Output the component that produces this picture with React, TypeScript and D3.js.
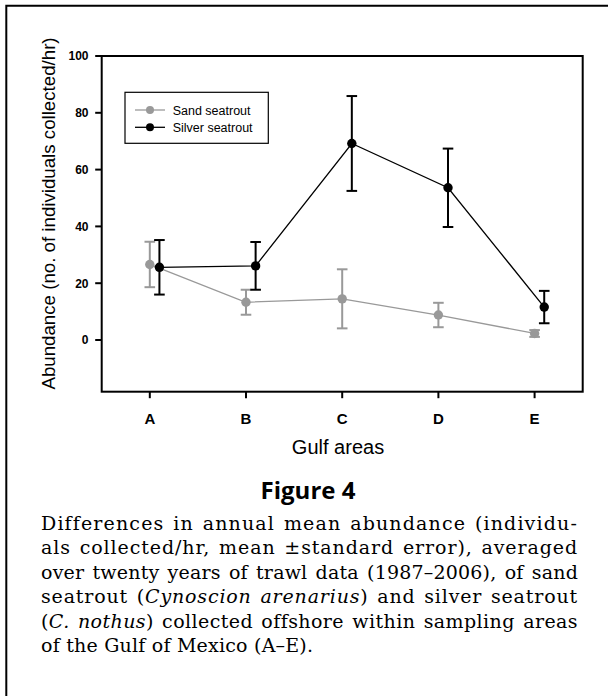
import React, { useEffect, useRef } from 'react';
import * as d3 from 'd3';

// ---------- data ----------
const categories = ['A', 'B', 'C', 'D', 'E'];
const sandMean = [26.6, 13.3, 14.5, 8.8, 2.3];
const sandSE = [8.0, 4.4, 10.4, 4.3, 1.2];
const silverMean = [25.6, 26.1, 69.2, 53.6, 11.6];
const silverSE = [9.6, 8.4, 16.7, 13.8, 5.7];
const yTicks = [0, 20, 40, 60, 80, 100];
const seriesNames = ['Sand seatrout', 'Silver seatrout'];
const yLabel = 'Abundance (no. of individuals collected/hr)';
const xLabel = 'Gulf areas';
const figTitle = 'Figure 4';
type Seg = { t: string; i?: boolean };
const captionLines: Seg[][] = [
  [{ t: 'Differences in annual mean abundance (individu-' }],
  [{ t: 'als collected/hr, mean \u00b1standard error), averaged' }],
  [{ t: 'over twenty years of trawl data (1987\u20132006), of sand' }],
  [{ t: 'seatrout (' }, { t: 'Cynoscion arenarius', i: true }, { t: ') and silver seatrout' }],
  [{ t: '(' }, { t: 'C. nothus', i: true }, { t: ') collected offshore within sampling areas' }],
  [{ t: 'of the Gulf of Mexico (A\u2013E).' }],
];

// ---------- layout ----------
const W = 608;
const H = 696;
const P = { left: 101.7, right: 582.7, top: 56, bottom: 391.7 };
const GREY = '#999999';
const CAP_L = 41;
const CAP_R = 578;

export default function App() {
  const capRef = useRef<SVGGElement>(null);

  const x = d3.scaleLinear().domain([0.5, 5.5]).range([P.left, P.right]);
  const y = d3.scaleLinear().domain([-18.2, 100]).range([P.bottom, P.top]);
  const idx = categories.map((_, i) => i + 1);

  const series = [
    { name: seriesNames[0], mean: sandMean, se: sandSE, color: GREY, off: 0 },
    { name: seriesNames[1], mean: silverMean, se: silverSE, color: '#000', off: 0.1 },
  ];

  const line = d3
    .line<number>()
    .x((_, i) => x(idx[i]))
    .y((d) => y(d));

  useEffect(() => {
    const g = capRef.current;
    if (!g) return;
    const target = CAP_R - CAP_L;
    const texts = d3.select(g).selectAll<SVGTextElement, unknown>('text').nodes();
    let lastLs = 0;
    texts.forEach((node) => {
      if (node.getAttribute('data-j') !== '1') return;
      const len = node.getComputedTextLength();
      const str = node.textContent || '';
      const spaces = str.split(' ').length - 1;
      const extra = target - len;
      // give words up to 2px extra spacing, the rest goes into letter-spacing
      const ws = spaces > 0 ? Math.max(-1, Math.min(2, extra / spaces)) : 0;
      const ls = (extra - ws * spaces) / Math.max(1, str.length - 1);
      node.setAttribute('letter-spacing', String(ls));
      const len2 = node.getComputedTextLength();
      const ws2 = spaces > 0 ? (target - len2) / spaces : 0;
      node.setAttribute('word-spacing', String(ws2));
      lastLs = ls;
    });
    texts.forEach((node) => {
      if (node.getAttribute('data-j') === '1') return;
      node.setAttribute('letter-spacing', String(Math.max(0, lastLs * 0.5)));
    });
  }, []);

  return (
    <svg
      width={W}
      height={H}
      style={{ position: 'absolute', left: 0, top: 0, background: '#fff' }}
      fontFamily="'Liberation Sans', Arial, sans-serif"
    >
      <rect x={0} y={0} width={W} height={H} fill="#fff" />
      {/* outer frame (left & top) */}
      <path d={`M6.3,${H + 2} V5.7 H${W + 2}`} fill="none" stroke="#000" strokeWidth={2} />

      {/* plot frame */}
      <rect
        x={P.left}
        y={P.top}
        width={P.right - P.left}
        height={P.bottom - P.top}
        fill="none"
        stroke="#000"
        strokeWidth={2}
      />

      {/* y ticks */}
      {yTicks.map((t) => (
        <g key={t}>
          <line x1={P.left - 6.5} x2={P.left} y1={y(t)} y2={y(t)} stroke="#000" strokeWidth={2} />
          <text x={88.5} y={y(t)} dy="0.36em" textAnchor="end" fontSize={12} fontWeight="bold">
            {t}
          </text>
        </g>
      ))}

      {/* x ticks */}
      {categories.map((c, i) => (
        <g key={c}>
          <line x1={x(idx[i])} x2={x(idx[i])} y1={P.bottom} y2={P.bottom + 6.5} stroke="#000" strokeWidth={2} />
          <text x={x(idx[i])} y={424} textAnchor="middle" fontSize={15} fontWeight="bold">
            {c}
          </text>
        </g>
      ))}

      {/* axis labels */}
      <text x={338} y={454} textAnchor="middle" fontSize={20}>
        {xLabel}
      </text>
      <text transform={`translate(55,213.5) rotate(-90)`} textAnchor="middle" fontSize={18.7}>
        {yLabel}
      </text>

      {/* series */}
      {series.map((s) => (
        <g key={s.name}>
          <path
            d={line(s.mean) || ''}
            transform={`translate(${x(1 + s.off) - x(1)},0)`}
            fill="none"
            stroke={s.color}
            strokeWidth={1.3}
          />
          {s.mean.map((m, i) => {
            const cx = x(idx[i] + s.off);
            const hi = y(m + s.se[i]);
            const lo = y(m - s.se[i]);
            return (
              <g key={i}>
                <line x1={cx} x2={cx} y1={hi} y2={lo} stroke={s.color} strokeWidth={2} />
                <line x1={cx - 5.3} x2={cx + 5.3} y1={hi} y2={hi} stroke={s.color} strokeWidth={2} />
                <line x1={cx - 5.3} x2={cx + 5.3} y1={lo} y2={lo} stroke={s.color} strokeWidth={2} />
                <circle cx={cx} cy={y(m)} r={4.7} fill={s.color} />
              </g>
            );
          })}
        </g>
      ))}

      {/* legend */}
      <rect x={125} y={92.3} width={143.3} height={51} fill="#fff" stroke="#000" strokeWidth={1.2} />
      {series.map((s, i) => {
        const ly = 110 + i * 17.3;
        return (
          <g key={s.name}>
            <line x1={135} x2={165} y1={ly} y2={ly} stroke={s.color} strokeWidth={1.3} />
            <circle cx={150} cy={ly} r={4} fill={s.color} />
            <text x={172.7} y={ly} dy="0.36em" fontSize={12.5}>
              {s.name}
            </text>
          </g>
        );
      })}

      {/* figure title */}
      <text
        x={308}
        y={499}
        textAnchor="middle"
        fontFamily="'Open Sans', sans-serif"
        fontWeight="bold"
        fontSize={24}
      >
        {figTitle}
      </text>

      {/* caption */}
      <g ref={capRef} fontFamily="'DejaVu Serif', serif" fontSize={19}>
        {captionLines.map((segs, li) => (
          <text
            key={li}
            x={CAP_L}
            y={530 + li * 24.4}
            data-j={li < captionLines.length - 1 ? '1' : '0'}
            style={{ whiteSpace: 'pre' }}
          >
            {segs.map((sg, si) => (
              <tspan key={si} fontStyle={sg.i ? 'italic' : 'normal'}>
                {sg.t}
              </tspan>
            ))}
          </text>
        ))}
      </g>
    </svg>
  );
}
